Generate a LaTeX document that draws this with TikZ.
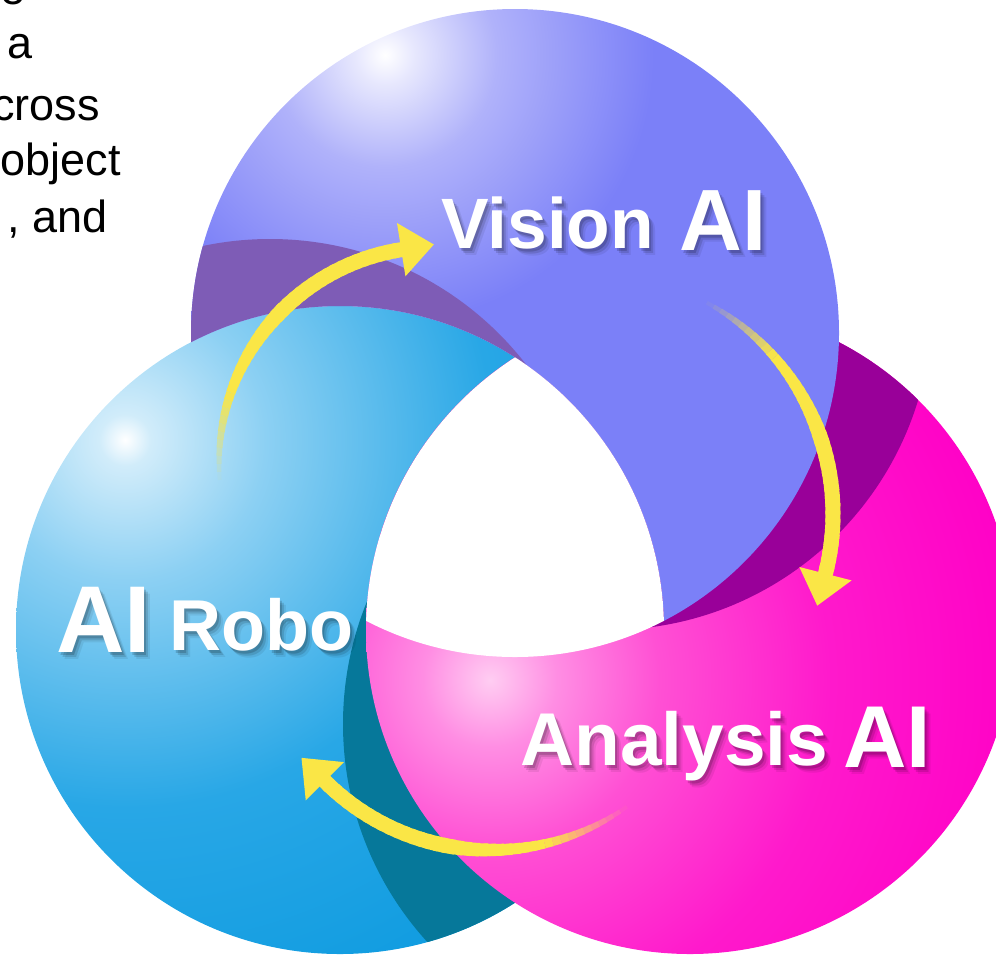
\documentclass[tikz,border=0pt]{standalone}
\usepackage{fontspec}
\setmainfont{Liberation Sans}
\usetikzlibrary{calc}

% palette
\definecolor{visionbase}{RGB}{123,128,248}
\definecolor{visionlight}{RGB}{176,178,250}
\definecolor{visionshade}{RGB}{126,92,182}
\definecolor{robobase}{RGB}{40,167,230}
\definecolor{robodeep}{RGB}{12,154,223}
\definecolor{robolight}{RGB}{140,208,243}
\definecolor{roboshade}{RGB}{6,120,154}
\definecolor{anabase}{RGB}{255,0,198}
\definecolor{anamid}{RGB}{255,80,212}
\definecolor{analight}{RGB}{255,205,242}
\definecolor{anashade}{RGB}{153,0,153}
\definecolor{arrowyellow}{RGB}{250,230,70}

% soft highlights on the three discs (drawn on circles of radius 800,
% so 1bp of the shading is about 22.6 units of the picture)
\pgfdeclareradialshading{visionglow}{\pgfpoint{0bp}{0bp}}{%
  color(0bp)=(white); color(0.9bp)=(white!70!visionlight);
  color(3.5bp)=(visionlight); color(8.4bp)=(visionbase); color(50bp)=(visionbase)}
\pgfdeclareradialshading{roboglow}{\pgfpoint{0bp}{0bp}}{%
  color(0bp)=(white); color(0.8bp)=(white!60!robolight);
  color(4.4bp)=(robolight); color(11.5bp)=(robobase); color(20bp)=(robodeep); color(50bp)=(robodeep)}
\pgfdeclareradialshading{anaglow}{\pgfpoint{0bp}{0bp}}{%
  color(0bp)=(analight); color(2.1bp)=(white!35!anamid);
  color(5.3bp)=(anamid); color(10.6bp)=(anabase!90!white); color(17bp)=(anabase); color(50bp)=(anabase)}

\tikzset{
  disctitle/.style={anchor=base west, inner sep=0pt, text=white, font=\bfseries},
  sidetext/.style={anchor=base east, inner sep=0pt, text=black,
    font=\fontsize{25.6pt}{30pt}\selectfont},
}

% white bold title with a soft drop shadow
\newcommand{\shadowtitle}[4]{% text, x, y, size
  \foreach \dx/\dy/\op in {2/3/0.16,4/5/0.12,6/7/0.07}{
    \node[disctitle, text=black, text opacity=\op,
      font=\bfseries\fontsize{#4}{#4}\selectfont] at ({#2+\dx},{#3+\dy}) {#1};
  }
  \node[disctitle, font=\bfseries\fontsize{#4}{#4}\selectfont] at (#2,#3) {#1};
}

% curved cycle arrow: faded, tapering tail and a triangular head
\newcommand{\cyclearrow}[5]{% name, cx, cy, radius, start angle (end angle in \endang)
  \coordinate (#1c) at (#2,#3);
  \foreach \k in {0,...,39}{
    \pgfmathsetmacro{\op}{min(1,0.05+\k/11)}
    \pgfmathsetmacro{\ta}{#5+((\endang)-(#5))*\k/40}
    \pgfmathsetmacro{\tb}{#5+((\endang)-(#5))*(\k+1+0.5*(\op>=1))/40}
    \pgfmathsetmacro{\wd}{(4+11*min(1,\k/22))*0.569}
    \draw[arrowyellow, draw opacity=\op, line width=\wd pt]
      plot[domain=\ta:\tb, samples=3] ({#2+#4*cos(\x)},{#3+#4*sin(\x)});
  }
  \coordinate (#1e) at ($(#1c)+(\endang:#4)$);
  \fill[arrowyellow] ($(#1e)+(\endang:27)$) -- ($(#1e)+({\endang+90}:33)$)
    -- ($(#1e)+({\endang+180}:27)$) -- cycle;
}

\begin{document}
\begin{tikzpicture}[x=0.02cm, y=-0.02cm]
\useasboundingbox (0,0) rectangle (996,954);
\clip (0,0) rectangle (996,954);

\def\rad{324}
\coordinate (V) at (515,333);
\coordinate (R) at (340,630);
\coordinate (A) at (690,630);
% offset copies of the discs that darken their neighbours
\coordinate (Vs) at (608,306);
\coordinate (Rs) at (270,563);
\coordinate (As) at (667,724);

% AI Robo disc, darkened where Analysis falls on it
\begin{scope}
  \clip (R) circle (\rad);
  \shade[shading=roboglow] (125,440) circle (800);
  \fill[roboshade] (As) circle (\rad);
\end{scope}

% Analysis disc, lying over Robo, darkened where Vision falls on it
\begin{scope}
  \clip (A) circle (\rad);
  \shade[shading=anaglow] (490,680) circle (800);
  \fill[anashade] (Vs) circle (\rad);
\end{scope}

% Vision disc, over Analysis but under Robo
\begin{scope}[even odd rule]
  \clip (-50,-50) rectangle (1050,1050) (R) circle (\rad);
  \clip (V) circle (\rad);
  \shade[shading=visionglow] (385,55) circle (800);
  \fill[visionshade] (Rs) circle (\rad);
\end{scope}

% white core common to all three
\begin{scope}
  \clip (V) circle (\rad);
  \clip (R) circle (\rad);
  \fill[white] (A) circle (\rad);
\end{scope}

% cycle arrows
\def\endang{261}
\cyclearrow{toVision}{435}{463}{216}{175.5}
\def\endang{14.4}
\cyclearrow{toAnalysis}{593}{514}{240}{-61.7}
\def\endang{135}
\cyclearrow{toRobo}{491}{615}{235}{54.7}

% disc titles
\shadowtitle{Vision}{441}{248}{40.6pt}
\shadowtitle{AI}{679}{250}{49.5pt}
\shadowtitle{AI}{56}{652}{54pt}
\shadowtitle{Robo}{169}{650}{41pt}
\shadowtitle{Analysis}{520}{765}{42.6pt}
\shadowtitle{AI}{843}{767}{50pt}

% running text at the left edge
\node[sidetext] (line1) at (26,4) {e};
\node[sidetext] (line2) at (33,58) {a};
\node[sidetext] (line3) at (100,120) {cross};
\node[sidetext] (line4) at (121,175) {object};
\node[sidetext] (line5) at (108,232) {, and};
\end{tikzpicture}
\end{document}
